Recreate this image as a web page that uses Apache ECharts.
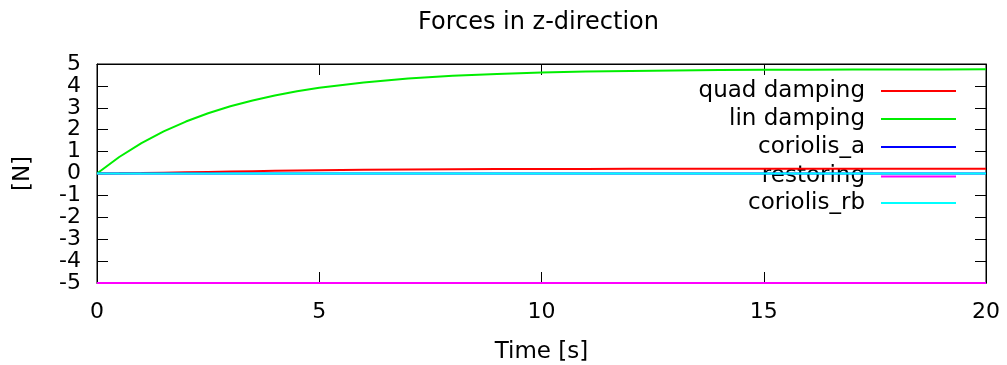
<!DOCTYPE html>
<html>
<head>
<meta charset="utf-8">
<script src="https://cdn.jsdelivr.net/npm/echarts@6/dist/echarts.min.js"></script>
<style>html,body{margin:0;padding:0;background:#fff}#c{width:1007px;height:365px}</style>
</head>
<body>
<div id="c"></div>
<script>
const time = [0,0.5,1,1.5,2,2.5,3,3.5,4,4.5,5,6,7,8,9,10,11,12,13,14,15,16,17,18,19,20];
const quadDamping = [0,0.006,0.019,0.036,0.055,0.074,0.092,0.108,0.123,0.137,0.149,0.168,0.183,0.193,0.201,0.206,0.210,0.213,0.215,0.216,0.217,0.218,0.218,0.219,0.219,0.219];
const linDamping = [0,0.754,1.388,1.922,2.372,2.750,3.068,3.336,3.561,3.751,3.911,4.159,4.334,4.458,4.546,4.609,4.653,4.684,4.706,4.722,4.733,4.741,4.746,4.750,4.753,4.755];
const coriolisA = [0,0,0,0,0,0,0,0,0,0,0,0,0,0,0,0,0,0,0,0,0,0,0,0,0,0];
const restoring = [-5,-5,-5,-5,-5,-5,-5,-5,-5,-5,-5,-5,-5,-5,-5,-5,-5,-5,-5,-5,-5,-5,-5,-5,-5,-5];
const coriolisRb = [0,0,0,0,0,0,0,0,0,0,0,0,0,0,0,0,0,0,0,0,0,0,0,0,0,0];
const seriesNames = ['quad damping','lin damping','coriolis_a','restoring','coriolis_rb'];
const seriesColors = ['#ff0000','#00ee00','#0000ff','#ff00ff','#00ffff'];
const seriesValues = [quadDamping, linDamping, coriolisA, restoring, coriolisRb];
const xTicks = [0,5,10,15,20];
const yTicks = [-5,-4,-3,-2,-1,0,1,2,3,4,5];

const FONT = 'DejaVu Sans';
const chart = echarts.init(document.getElementById('c'), null, {renderer:'canvas'});
const legendRowsTop = [91,119,147,176.5,203];
const legends = seriesNames.map((n,i)=>({
  data:[n], orient:'vertical', right:51, top: legendRowsTop[i]-13, padding:0,
  align:'right', icon:'rect', itemWidth:75, itemHeight:2,
  selectedMode:false, z:1,
  textStyle:{fontFamily:FONT,fontSize:23,color:'#000',lineHeight:26,padding:[0,11,0,0]}
}));
function axisBase(){
  return {
    type:'value', gridIndex:0, show:true, splitLine:{show:false},
    axisLine:{show:true,onZero:false,lineStyle:{color:'#000',width:1}},
    axisTick:{show:true,inside:true,length:11,lineStyle:{color:'#000',width:1}}
  };
}
chart.setOption({
  animation:false,
  backgroundColor:'#fff',
  title:{text:'Forces in z-direction',left:418,top:11,padding:0,
    textStyle:{fontFamily:FONT,fontSize:24,fontWeight:'normal',color:'#000'}},
  legend:legends,
  grid:{show:true,left:97,right:21,top:64,bottom:82,containLabel:false,outerBoundsMode:'none',
    borderColor:'#000',borderWidth:1,backgroundColor:'transparent'},
  xAxis:[
    Object.assign(axisBase(),{position:'bottom',min:0,max:20,interval:5,
      name:'Time [s]',nameLocation:'middle',nameGap:58,
      nameTextStyle:{fontFamily:FONT,fontSize:23,color:'#000'},
      axisLabel:{fontFamily:FONT,fontSize:22,color:'#000',margin:18,showMinLabel:true,showMaxLabel:true,hideOverlap:false,
        formatter:v=>xTicks.includes(v)?String(v):''}}),
    Object.assign(axisBase(),{position:'top',min:0,max:20,interval:5,axisLabel:{show:false}})
  ],
  yAxis:[
    Object.assign(axisBase(),{position:'left',min:-5,max:5,interval:1,
      name:'[N]',nameLocation:'middle',nameGap:62,
      nameTextStyle:{fontFamily:FONT,fontSize:23,color:'#000'},
      axisLabel:{fontFamily:FONT,fontSize:22,color:'#000',margin:16,showMinLabel:true,showMaxLabel:true,hideOverlap:false,
        formatter:v=>yTicks.includes(v)?String(v):''}}),
    Object.assign(axisBase(),{position:'right',min:-5,max:5,interval:1,axisLabel:{show:false}})
  ],
  series:seriesNames.map((n,i)=>({
    name:n,type:'line',xAxisIndex:0,yAxisIndex:0,
    data:time.map((t,j)=>[t,seriesValues[i][j]]),
    showSymbol:false,symbol:'none',smooth:false,clip:false,
    lineStyle:{color:seriesColors[i],width:2},itemStyle:{color:seriesColors[i]},
    z:2+i
  }))
});
</script>
</body>
</html>
